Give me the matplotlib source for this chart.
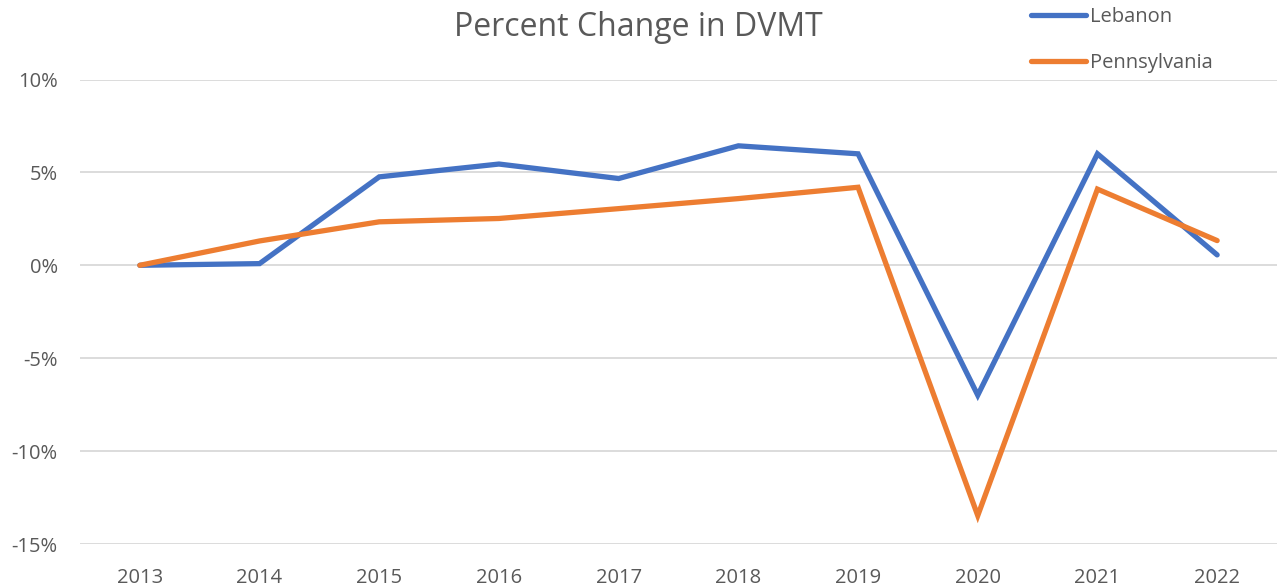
import matplotlib
matplotlib.use("Agg")
import matplotlib.pyplot as plt
from matplotlib.ticker import FuncFormatter
from matplotlib.lines import Line2D

years = ["2013", "2014", "2015", "2016", "2017", "2018", "2019", "2020", "2021", "2022"]
lebanon = [0.0, 0.09, 4.76, 5.45, 4.67, 6.43, 6.0, -6.99, 6.0, 0.56]
pennsylvania = [0.0, 1.31, 2.34, 2.52, 3.05, 3.59, 4.2, -13.47, 4.1, 1.33]
yticks = [-15, -10, -5, 0, 5, 10]

plt.rcParams['font.family'] = ['Open Sans', 'DejaVu Sans']

fig = plt.figure(figsize=(12.77, 5.88), dpi=100)
ax = fig.add_axes([80/1277, 1 - 544/588, (1277-80)/1277, (544-79.5)/588])

x = list(range(len(years)))
l1, = ax.plot(x, lebanon, color="#4472C4", lw=3.8, solid_joinstyle="miter", solid_capstyle="round", label="Lebanon", zorder=3)
l2, = ax.plot(x, pennsylvania, color="#ED7D31", lw=3.8, solid_joinstyle="miter", solid_capstyle="round", label="Pennsylvania", zorder=3)

ax.set_xlim(-0.5, len(years) - 0.5)
ax.set_ylim(-15, 10)
ax.set_yticks(yticks)
ax.yaxis.set_major_formatter(FuncFormatter(lambda v, p: f"{int(v)}%"))
ax.set_xticks(x)
ax.set_xticklabels(years)
ax.grid(axis="y", color="#d9d9d9", lw=1.3)
ax.set_axisbelow(True)
for s in ax.spines.values():
    s.set_visible(False)
ax.tick_params(length=0, labelsize=14.5, colors="#595959")
ax.tick_params(axis="x", pad=17)
ax.tick_params(axis="y", pad=16)

fig.text(0.5, 1 - 28/588, "Percent Change in DVMT", ha="center", va="center", fontsize=23, color="#595959")

handles = [Line2D([], [], color="#4472C4", lw=3.8, solid_capstyle="round"),
           Line2D([], [], color="#ED7D31", lw=3.8, solid_capstyle="round")]
leg = fig.legend(handles=handles, labels=["Lebanon", "Pennsylvania"], loc="upper left",
                 bbox_to_anchor=(1013/1277, 1 + 11/588),
                 frameon=False, fontsize=14.5, handlelength=2.7, handletextpad=0.2,
                 labelspacing=1.3, labelcolor="#595959")

fig.savefig("out.png", dpi=100)
